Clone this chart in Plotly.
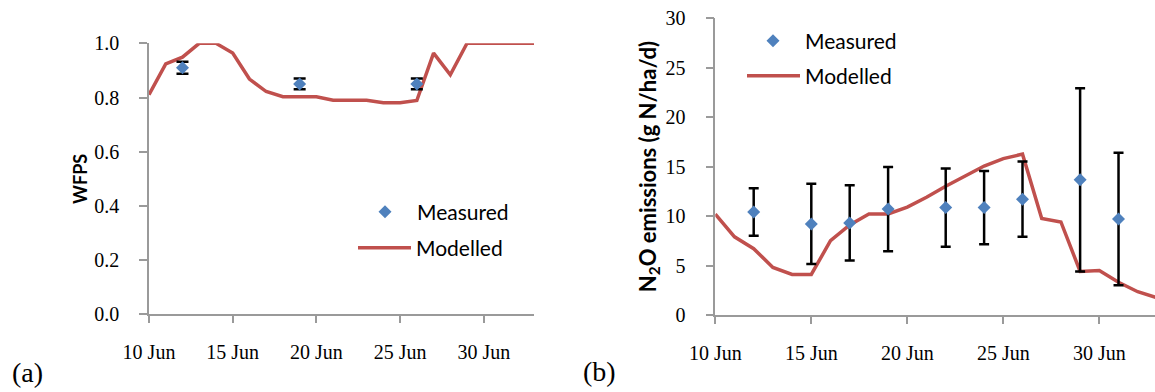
import plotly.graph_objects as go
import pandas as pd

# ---------------- data ----------------
model_dates = [d.strftime("%Y-%m-%d") for d in pd.date_range("2010-06-10", "2010-07-03", freq="D")]

wfps_model = [0.81, 0.924, 0.949, 1.0, 1.0, 0.964, 0.868, 0.822, 0.803, 0.803,
              0.803, 0.79, 0.79, 0.79, 0.781, 0.781, 0.789, 0.964, 0.884, 1.0,
              1.0, 1.0, 1.0, 1.0]
wfps_meas_dates = ["2010-06-12", "2010-06-19", "2010-06-26"]
wfps_meas = [0.91, 0.85, 0.85]
wfps_err = [0.022, 0.02, 0.02]

n2o_model = [10.2, 7.9, 6.7, 4.8, 4.1, 4.1, 7.5, 9.1, 10.2, 10.2,
             10.9, 11.9, 13.0, 14.0, 15.05, 15.8, 16.25, 9.75, 9.4, 4.4,
             4.5, 3.3, 2.35, 1.75]
n2o_meas_dates = ["2010-06-12", "2010-06-15", "2010-06-17", "2010-06-19", "2010-06-22",
                  "2010-06-24", "2010-06-26", "2010-06-29", "2010-07-01"]
n2o_meas = [10.4, 9.2, 9.3, 10.7, 10.85, 10.85, 11.7, 13.65, 9.7]
n2o_err = [2.4, 4.05, 3.8, 4.25, 3.95, 3.7, 3.8, 9.25, 6.7]

tick_dates = ["2010-06-10", "2010-06-15", "2010-06-20", "2010-06-25", "2010-06-30"]
tick_text = ["10 Jun", "15 Jun", "20 Jun", "25 Jun", "30 Jun"]

# ---------------- style ----------------
W, H = 1155, 392
BLUE = "#4F81BD"
RED = "#C0504D"
AX = "#9A9A9A"
SERIF = "Liberation Serif"
SANS = "Lato"

fig = go.Figure()

fig.add_trace(go.Scatter(x=model_dates, y=wfps_model, mode="lines", name="Modelled",
                         line=dict(color=RED, width=3.5), xaxis="x", yaxis="y",
                         legend="legend2", showlegend=True))
fig.add_trace(go.Scatter(x=wfps_meas_dates, y=wfps_meas, mode="markers", name="Measured",
                         marker=dict(symbol="diamond", size=10, color=BLUE),
                         error_y=dict(type="data", array=wfps_err, color="black",
                                      thickness=2.5, width=6),
                         xaxis="x", yaxis="y", legend="legend", showlegend=True))

fig.add_trace(go.Scatter(x=model_dates, y=n2o_model, mode="lines", name="Modelled",
                         line=dict(color=RED, width=3.5), xaxis="x2", yaxis="y2",
                         legend="legend4", showlegend=True))
fig.add_trace(go.Scatter(x=n2o_meas_dates, y=n2o_meas, mode="markers", name="Measured",
                         marker=dict(symbol="diamond", size=10, color=BLUE),
                         error_y=dict(type="data", array=n2o_err, color="black",
                                      thickness=2.5, width=5),
                         xaxis="x2", yaxis="y2", legend="legend3", showlegend=True))

xcommon = dict(type="date", tickvals=tick_dates, ticktext=tick_text,
               showline=True, linecolor=AX, linewidth=1.5, ticks="outside",
               tickcolor=AX, ticklen=7, tickwidth=1.5, showgrid=False, zeroline=False,
               tickfont=dict(family=SERIF, size=20, color="black"),
               ticklabelstandoff=12, automargin=False)
ycommon = dict(showline=True, linecolor=AX, linewidth=1.5, ticks="outside",
               tickcolor=AX, ticklen=8, tickwidth=1.5, showgrid=False, zeroline=False,
               tickfont=dict(family=SERIF, size=20, color="black"),
               ticklabelstandoff=16, automargin=False)

legfont = dict(family=SANS, size=21, color="black")

fig.update_layout(
    width=W, height=H, autosize=False,
    margin=dict(l=0, r=0, t=0, b=0, autoexpand=False),
    showlegend=True,
    paper_bgcolor="white", plot_bgcolor="white",
    xaxis=dict(xcommon, domain=[149 / W, 534 / W], anchor="y",
               range=["2010-06-10", "2010-07-03"]),
    yaxis=dict(ycommon, domain=[1 - 314.3 / H, 1 - 43.3 / H], anchor="x",
               range=[0, 1], dtick=0.2, tick0=0, tickformat=".1f",
               title=dict(text="WFPS", font=dict(family=SANS, size=18, color="black",
                                                  weight="bold"), standoff=2)),
    xaxis2=dict(xcommon, domain=[715.3 / W, 1.0], anchor="y2",
                range=["2010-06-10", "2010-07-02 21:36"]),
    yaxis2=dict(ycommon, domain=[1 - 315 / H, 1 - 18 / H], anchor="x2",
                range=[0, 30], dtick=5, tick0=0,
                title=dict(text="N<sub>2</sub>O emissions (g N/ha/d)",
                           font=dict(family=SANS, size=22, color="black", weight="bold"),
                           standoff=3)),
    legend=dict(x=353 / W, y=1 - 212 / H, xanchor="left", yanchor="middle",
                font=legfont, bgcolor="rgba(0,0,0,0)", itemwidth=54),
    legend2=dict(x=353 / W, y=1 - 248 / H, xanchor="left", yanchor="middle",
                 font=legfont, bgcolor="rgba(0,0,0,0)", itemwidth=53),
    legend3=dict(x=741 / W, y=1 - 41 / H, xanchor="left", yanchor="middle",
                 font=legfont, bgcolor="rgba(0,0,0,0)", itemwidth=54),
    legend4=dict(x=742 / W, y=1 - 76 / H, xanchor="left", yanchor="middle",
                 font=legfont, bgcolor="rgba(0,0,0,0)", itemwidth=53),
    annotations=[
        dict(text="(a)", x=10 / W, y=1 - 372 / H, xref="paper", yref="paper",
             xanchor="left", yanchor="middle", showarrow=False,
             font=dict(family=SERIF, size=28, color="black")),
        dict(text="(b)", x=581 / W, y=1 - 371 / H, xref="paper", yref="paper",
             xanchor="left", yanchor="middle", showarrow=False,
             font=dict(family=SERIF, size=28, color="black")),
    ],
)

fig.write_html("out.html", config={"displayModeBar": False},
               post_script="document.body.style.margin='0';document.body.style.overflow='hidden';")
